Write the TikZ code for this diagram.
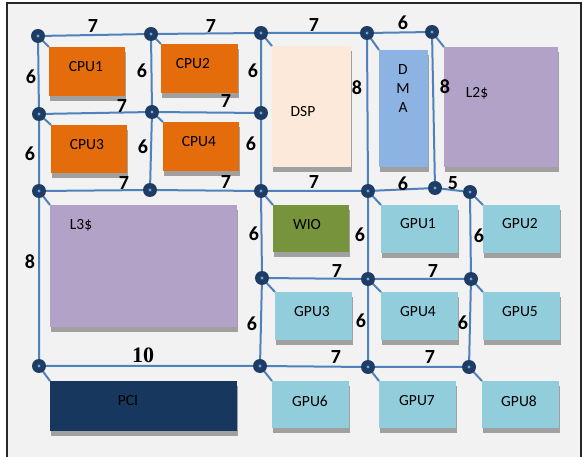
\documentclass[tikz,border=0pt]{standalone}
\usepackage{fontspec}
\setmainfont{Carlito}
\newfontfamily\numserif{Liberation Serif}
\usetikzlibrary{shadows}
\definecolor{bgc}{HTML}{F2F2F2}
\definecolor{linec}{HTML}{4F81BD}
\definecolor{nodec}{HTML}{1F3D64}
\definecolor{dotc}{HTML}{6FA8DC}
\definecolor{cpuc}{HTML}{E46C0A}
\definecolor{dspc}{HTML}{FDE9D9}
\definecolor{dmac}{HTML}{8DB3E2}
\definecolor{cachec}{HTML}{B2A2C7}
\definecolor{wioc}{HTML}{77933C}
\definecolor{gpuc}{HTML}{92CDDC}
\definecolor{pcic}{HTML}{17375E}
\definecolor{shadc}{HTML}{A0A0A0}
\pgfdeclarelayer{back}
\pgfdeclarelayer{background}
\pgfsetlayers{back,background,main}
\tikzset{
  gnode/.style={circle,fill=nodec,inner sep=0pt,minimum size=14pt,
    path picture={\fill[dotc] (path picture bounding box.center) circle (1.6pt);}},
  wire/.style={draw=linec,line width=2pt},
  blk/.style={rectangle,inner sep=0pt,anchor=north west,
    drop shadow={shadow xshift=1pt,shadow yshift=-5pt,fill=shadc,opacity=1}},
  lbl/.style={font=\fontsize{15.5}{17}\selectfont,text=black,inner sep=0pt},
  wt/.style={font=\fontsize{20}{22}\selectfont\bfseries,inner sep=0pt},
  wts/.style={font=\fontsize{22}{24}\selectfont\numserif\bfseries,inner sep=0pt}
}
\newcommand\blk[6]{\node[blk,fill=#6,minimum width={#4-#2},minimum height={#5-#3}] (#1) at (#2,#3) {};}
\begin{document}
\begin{tikzpicture}[x=1pt,y=-1pt]
\useasboundingbox (0,0) rectangle (582,457);
\begin{pgfonlayer}{back}
\fill[bgc] (7,3) rectangle (581,457);
\draw[line width=2pt,black!85] (7,457) -- (7,3) -- (581,3) -- (581,457);
\end{pgfonlayer}
% grid nodes
\node[gnode] (n11) at (38,36) {};
\node[gnode] (n12) at (151,34) {};
\node[gnode] (n13) at (261,33) {};
\node[gnode] (n14) at (367,33) {};
\node[gnode] (n15) at (432,32) {};
\node[gnode] (n21) at (39,114) {};
\node[gnode] (n22) at (152,112) {};
\node[gnode] (n23) at (261,113) {};
\node[gnode] (n31) at (39,191) {};
\node[gnode] (n32) at (150,190) {};
\node[gnode] (n33) at (261,191) {};
\node[gnode] (n34) at (368,191) {};
\node[gnode] (n35) at (435,188) {};
\node[gnode] (n36) at (470,192) {};
\node[gnode] (n43) at (262,278) {};
\node[gnode] (n44) at (368,279) {};
\node[gnode] (n46) at (471,279) {};
\node[gnode] (n51) at (39,366) {};
\node[gnode] (n53) at (260,366) {};
\node[gnode] (n54) at (368,367) {};
\node[gnode] (n56) at (469,367) {};
% blocks
\blk{cpu1}{49}{47}{125}{96}{cpuc}
\blk{cpu2}{161}{44}{238}{93}{cpuc}
\blk{cpu3}{51}{125}{127}{173}{cpuc}
\blk{cpu4}{163}{122}{239}{171}{cpuc}
\blk{dsp}{272}{46}{351}{167}{dspc}
\blk{dma}{379}{50}{428}{167}{dmac}
\blk{ltwo}{444}{47}{558}{167}{cachec}
\blk{lthree}{50}{205}{237}{327}{cachec}
\blk{pci}{50}{381}{237}{431}{pcic}
\blk{wio}{273}{205}{349}{252}{wioc}
\blk{gpu1}{381}{205}{458}{253}{gpuc}
\blk{gpu2}{483}{205}{560}{253}{gpuc}
\blk{gpu3}{275}{292}{352}{340}{gpuc}
\blk{gpu4}{381}{292}{458}{340}{gpuc}
\blk{gpu5}{483}{292}{560}{340}{gpuc}
\blk{gpu6}{272}{381}{349}{428}{gpuc}
\blk{gpu7}{379}{381}{456}{428}{gpuc}
\blk{gpu8}{482}{381}{559}{428}{gpuc}
\begin{pgfonlayer}{background}
% horizontal wires
\draw[wire] (n11) -- (n12) -- (n13) -- (n14) -- (n15);
\draw[wire] (n21) -- (n22) -- (n23);
\draw[wire] (n31) -- (n32) -- (n33) -- (n34) -- (n35) -- (n36);
\draw[wire] (n43) -- (n44) -- (n46);
\draw[wire] (n51) -- (n53) -- (n54) -- (n56);
% vertical wires
\draw[wire] (n11) -- (n21) -- (n31) -- (n51);
\draw[wire] (n12) -- (n22) -- (n32);
\draw[wire] (n13) -- (n23) -- (n33) -- (n43) -- (n53);
\draw[wire] (n14) -- (n34) -- (n44) -- (n54);
\draw[wire] (n15) -- (n35);
\draw[wire] (n36) -- (n46) -- (n56);
% ticks to blocks
\draw[wire] (n11.center) -- (cpu1.north west);
\draw[wire] (n12.center) -- (cpu2.north west);
\draw[wire] (n13.center) -- (dsp.north west);
\draw[wire] (n14.center) -- (dma.north west);
\draw[wire] (n15.center) -- (ltwo.north west);
\draw[wire] (n21.center) -- (cpu3.north west);
\draw[wire] (n22.center) -- (cpu4.north west);
\draw[wire] (n31.center) -- (lthree.north west);
\draw[wire] (n33.center) -- (wio.north west);
\draw[wire] (n34.center) -- (gpu1.north west);
\draw[wire] (n36.center) -- (gpu2.north west);
\draw[wire] (n43.center) -- (gpu3.north west);
\draw[wire] (n44.center) -- (gpu4.north west);
\draw[wire] (n46.center) -- (gpu5.north west);
\draw[wire] (n51.center) -- (pci.north west);
\draw[wire] (n53.center) -- (gpu6.north west);
\draw[wire] (n54.center) -- (gpu7.north west);
\draw[wire] (n56.center) -- (gpu8.north west);
\end{pgfonlayer}
% block labels
\node[lbl] (tcpu1) at (86,67) {CPU1};
\node[lbl] (tcpu2) at (193,64) {CPU2};
\node[lbl] (tcpu3) at (87,145) {CPU3};
\node[lbl] (tcpu4) at (199,142) {CPU4};
\node[lbl] (tdsp) at (303,112) {DSP};
\node[lbl] (tdma1) at (403,70) {D};
\node[lbl] (tdma2) at (403,89) {M};
\node[lbl] (tdma3) at (403,108) {A};
\node[lbl] (tltwo) at (477,93) {L2\$};
\node[lbl] (tlthree) at (81,225) {L3\$};
\node[lbl] (tpci) at (128,401) {PCI};
\node[lbl] (twio) at (307,225) {WIO};
\node[lbl] (tgpu1) at (418,224) {GPU1};
\node[lbl] (tgpu2) at (520,224) {GPU2};
\node[lbl] (tgpu3) at (312,312) {GPU3};
\node[lbl] (tgpu4) at (418,312) {GPU4};
\node[lbl] (tgpu5) at (520,312) {GPU5};
\node[lbl] (tgpu6) at (310,401) {GPU6};
\node[lbl] (tgpu7) at (417,401) {GPU7};
\node[lbl] (tgpu8) at (519,401) {GPU8};
% weights
\node[wt] (w1) at (93,26) {7};
\node[wt] (w2) at (211,26) {7};
\node[wt] (w3) at (314,25) {7};
\node[wt] (w4) at (403,23) {6};
\node[wt] (w5) at (31,77) {6};
\node[wt] (w6) at (142,71) {6};
\node[wt] (w7) at (253,71) {6};
\node[wt] (w8) at (357,88) {8};
\node[wt] (w9) at (445,87) {8};
\node[wt] (w10) at (122,106) {7};
\node[wt] (w11) at (226,101) {7};
\node[wt] (w12) at (30,154) {6};
\node[wt] (w13) at (143,147) {6};
\node[wt] (w14) at (251,144) {6};
\node[wt] (w15) at (124,183) {7};
\node[wt] (w16) at (226,182) {7};
\node[wt] (w17) at (314,182) {7};
\node[wt] (w18) at (403,184) {6};
\node[wt] (w19) at (453,183) {5};
\node[wt] (w20) at (30,262) {8};
\node[wt] (w21) at (254,234) {6};
\node[wt] (w22) at (360,235) {6};
\node[wt] (w23) at (479,236) {6};
\node[wt] (w24) at (337,271) {7};
\node[wt] (w25) at (433,271) {7};
\node[wt] (w26) at (252,324) {6};
\node[wt] (w27) at (361,321) {6};
\node[wt] (w28) at (463,323) {6};
\node[wts] (w29) at (143,355) {10};
\node[wt] (w30) at (336,357) {7};
\node[wt] (w31) at (430,357) {7};
\end{tikzpicture}
\end{document}
